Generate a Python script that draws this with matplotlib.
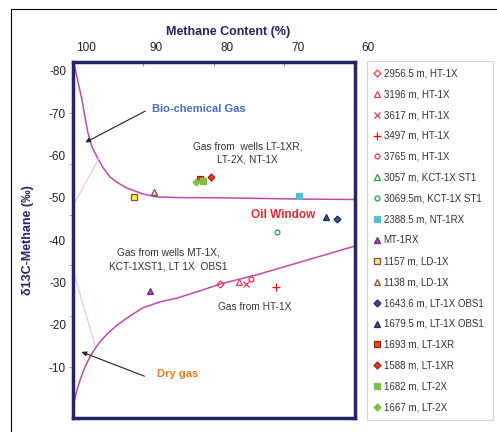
import numpy as np
import matplotlib
matplotlib.use("Agg")
import matplotlib.pyplot as plt
from matplotlib.transforms import ScaledTranslation
from matplotlib.patches import Rectangle

plt.rcParams['font.family'] = ['Liberation Sans', 'DejaVu Sans']

# --- samples: (methane %, d13C) ---
labels = ['2956.5 m, HT-1X', '3196 m, HT-1X', '3617 m, HT-1X', '3497 m, HT-1X',
          '3765 m, HT-1X', '3057 m, KCT-1X ST1', '3069.5m, KCT-1X ST1',
          '2388.5 m, NT-1RX', 'MT-1RX', '1157 m, LD-1X', '1138 m, LD-1X',
          '1643.6 m, LT-1X OBS1', '1679.5 m, LT-1X OBS1', '1693 m, LT-1XR',
          '1588 m, LT-1XR', '1682 m, LT-2X', '1667 m, LT-2X']
methane = [[79.15], [76.4], [75.5], [71.2], [74.7], [], [71.1], [67.9], [89.1],
           [91.35], [88.5], [62.55], [64.1], [81.94], [80.4], [81.56], [82.6]]
d13c = [[-29.6], [-30.0], [-29.6], [-29.0], [-30.7], [], [-41.9], [-50.5], [-28.0],
        [-50.2], [-51.4], [-45.1], [-45.5], [-54.5], [-54.8], [-53.9], [-53.8]]

# marker, face, edge, size
styles = [('D', 'none', '#ee3a4c', 3.5), ('^', 'none', '#ee3a4c', 4), ('x', 'none', '#ee3a4c', 4.5),
          ('+', 'none', '#ff0000', 6), ('o', 'none', '#ee3a4c', 3.5), ('^', 'none', '#2e9a4e', 4),
          ('o', 'none', '#2e9a4e', 3.5), ('s', '#4fc1d3', '#4fc1d3', 4), ('^', '#9b4fa0', '#6a2a80', 4),
          ('s', '#ffff00', '#8a3d9a', 4), ('^', '#ffff00', '#8a3d9a', 4), ('D', '#3a4f9a', '#1f2a5a', 3.5),
          ('^', '#3a4f9a', '#1f2a5a', 4), ('s', '#e84a1a', '#a02010', 4), ('D', '#e8401a', '#a02010', 3.5),
          ('s', '#7cc242', '#7cc242', 4), ('D', '#7cc242', '#7cc242', 3.5)]

# boundary curves
bio_x = [99.86, 99.29, 98.72, 98.30, 97.87, 97.3, 96.6, 95.74, 94.75, 93.6, 92.34, 91.2,
         90.07, 88.1, 84.8, 79.15, 67.8, 60.0]
bio_y = [-81.9, -77.4, -73.1, -69.1, -65.3, -62.0, -59.7, -57.1, -54.9, -53.5, -52.3, -51.6,
         -50.9, -50.2, -50.05, -50.0, -49.7, -49.6]
dry_x = [99.86, 99.43, 99.0, 98.3, 97.6, 96.88, 96.2, 95.04, 93.76, 91.9, 90.07, 87.66,
         85.25, 82.0, 79.15, 73.5, 60.0]
dry_y = [-1.7, -4.6, -6.9, -10.0, -12.4, -14.3, -15.9, -18.0, -19.9, -22.1, -24.0, -25.4,
         -26.3, -28.0, -29.6, -32.0, -38.6]
faint1_x = [99.7, 96.3]
faint1_y = [-49.0, -59.4]
faint2_x = [99.86, 96.9]
faint2_y = [-32.2, -15.2]

xticks = [100, 90, 80, 70, 60]
yticks = [-80, -70, -60, -50, -40, -30, -20, -10]

navy = '#24246a'
fig = plt.figure(figsize=(4.97, 4.32), dpi=100)
ax = fig.add_axes([73 / 497, 14 / 432, 282 / 497, 356 / 432])

ax.plot(bio_x, bio_y, color='#c04ab0', lw=1.1)
ax.plot(dry_x, dry_y, color='#c04ab0', lw=1.1)
ax.plot(faint1_x, faint1_y, color='#f2bde3', lw=0.8)
ax.plot(faint2_x, faint2_y, color='#f2bde3', lw=0.8)

for lab, xs, ys, (m, fc, ec, ms) in zip(labels, methane, d13c, styles):
    ax.plot(xs, ys, linestyle='none', marker=m, markerfacecolor=fc, markeredgecolor=ec,
            color=ec, markersize=ms, markeredgewidth=0.9, label=lab)

ax.set_xlim(100, 60)
ax.set_ylim(2.05, -82.1)
ax.xaxis.tick_top()
ax.set_xticks(xticks)
ax.set_xticklabels([str(t) for t in xticks], fontsize=8.5, color='#222222')
ax.tick_params(axis='x', direction='in', length=3, color='#999999', pad=6)
off = ScaledTranslation(13 / 100, 0, fig.dpi_scale_trans)
for t in ax.get_xticklabels():
    t.set_transform(t.get_transform() + off)

ax.set_yticks(yticks)
ax.set_yticklabels([str(t) for t in yticks], fontsize=8.5, color='#222222')
ax.set_yticks(np.linspace(-82.1, 2.05, 8)[1:-1], minor=True)
ax.tick_params(axis='y', which='major', length=0, pad=5)
ax.tick_params(axis='y', which='minor', length=3, color='#999999', direction='out')

for s in ax.spines.values():
    s.set_color(navy)
    s.set_linewidth(2.5)

fig.text(228 / 497, 1 - 32 / 432, 'Methane Content (%)', ha='center', va='center',
         fontsize=9, fontweight='bold', color=navy)
fig.text(28 / 497, 1 - 240 / 432, 'δ13C-Methane (‰)', ha='center', va='center', rotation=90,
         fontsize=9, fontweight='bold', color=navy)

ax.text(88.8, -71.0, 'Bio-chemical Gas', fontsize=8, fontweight='bold', color='#4a6cc4',
        ha='left', va='center')
ax.annotate('', xy=(98.6, -62.8), xytext=(89.4, -70.8),
            arrowprops=dict(arrowstyle='-|>', color='#222222', lw=0.8, mutation_scale=7))
ax.text(75.2, -60.6, 'Gas from  wells LT-1XR,\nLT-2X, NT-1X', fontsize=7.3, color='#333333',
        ha='center', va='center', linespacing=1.45)
ax.text(74.75, -45.95, 'Oil Window', fontsize=8.5, fontweight='bold', color='#ee2a30',
        ha='left', va='center')
ax.text(86.5, -35.4, 'Gas from wells MT-1X,\nKCT-1XST1, LT 1X  OBS1', fontsize=7.3, color='#333333',
        ha='center', va='center', linespacing=1.45)
ax.text(74.2, -24.2, 'Gas from HT-1X', fontsize=7.3, color='#333333', ha='center', va='center')
ax.text(88.1, -8.35, 'Dry gas', fontsize=8, fontweight='bold', color='#f07a22',
        ha='left', va='center')
ax.annotate('', xy=(99.15, -13.8), xytext=(89.5, -7.6),
            arrowprops=dict(arrowstyle='-|>', color='#222222', lw=0.8, mutation_scale=7))

leg = fig.legend(loc='upper left', bbox_to_anchor=(367 / 497, 1 - 61 / 432, 126 / 497, 0),
                 mode='expand', borderaxespad=0, fontsize=7, labelspacing=1.12,
                 handlelength=0.6, handletextpad=0.35, borderpad=0.75, fancybox=False,
                 numpoints=1, labelcolor='#333333')
leg.get_frame().set_edgecolor('#cccccc')
leg.get_frame().set_linewidth(0.8)

fig.add_artist(Rectangle((11 / 497, -0.1), 1.2, 1 - 9 / 432 + 0.1, transform=fig.transFigure,
                         fill=False, edgecolor='black', lw=0.8))

fig.savefig('out.png', dpi=100)
